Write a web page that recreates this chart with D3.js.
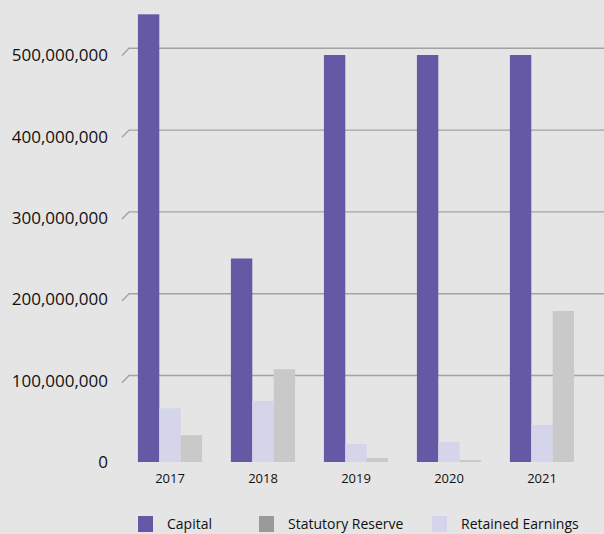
<!DOCTYPE html>
<html>
<head>
<meta charset="utf-8">
<script src="https://cdn.jsdelivr.net/npm/d3@7"></script>
<style>
  html, body { margin: 0; padding: 0; background: #e5e5e5; }
  svg { display: block; }
  text { font-family: "Open Sans", "Noto Sans", sans-serif; fill: #111; }
</style>
</head>
<body>
<svg id="chart" width="604" height="534"></svg>
<script>
// Equity components per year
const years = ["2017", "2018", "2019", "2020", "2021"];
const capital = [550000000, 250000000, 500000000, 500000000, 500000000];
const retainedEarnings = [66000000, 75000000, 22000000, 24500000, 45500000];
const statutoryReserve = [33000000, 114000000, 5000000, 2500000, 185500000];
const yTicks = [0, 100000000, 200000000, 300000000, 400000000, 500000000];

const seriesNames = ["Capital", "Retained Earnings", "Statutory Reserve"];
const seriesValues = [capital, retainedEarnings, statutoryReserve];
const barColors = { "Capital": "#6559a6", "Retained Earnings": "#d4d4ea", "Statutory Reserve": "#c9c9c9" };
const legendOrder = ["Capital", "Statutory Reserve", "Retained Earnings"];
const legendColors = { "Capital": "#6559a6", "Statutory Reserve": "#9a9a9a", "Retained Earnings": "#d4d4ea" };

const svg = d3.select("#chart");
const W = 604;

// front plane (bars) and back wall (gridlines)
const y = d3.scaleLinear().domain([0, 500000000]).range([462, 55]);
const yBack = d3.scaleLinear().domain([0, 500000000]).range([457.3, 48.3]);
const depthX = 7, depthY = 7.2;
const wallLeft = 129;

const x0 = d3.scaleBand().domain(years).range([123.5, 588.5]).paddingInner(0.31).paddingOuter(0.155);
const x1 = d3.scaleBand().domain(seriesNames).range([0, x0.bandwidth()]);

// gridlines on the back wall with a short floor-edge diagonal
const grid = svg.append("g");
yTicks.filter(t => t > 0).forEach(t => {
  const yb = yBack(t);
  grid.append("path")
    .attr("d", `M${wallLeft - depthX},${yb + depthY} L${wallLeft},${yb} L${W},${yb}`)
    .attr("fill", "none")
    .attr("stroke", "#a3a3a3")
    .attr("stroke-width", 1.4);
});

// bars
const groups = svg.append("g").selectAll("g")
  .data(years)
  .join("g")
  .attr("transform", d => `translate(${x0(d)},0)`);

groups.selectAll("rect")
  .data((d, i) => seriesNames.map((s, k) => ({ key: s, value: seriesValues[k][i] })))
  .join("rect")
  .attr("x", d => x1(d.key))
  .attr("width", x1.bandwidth())
  .attr("y", d => y(d.value))
  .attr("height", d => y(0) - y(d.value))
  .attr("fill", d => barColors[d.key]);

// y axis labels
const fmt = d3.format(",");
svg.append("g").selectAll("text")
  .data(yTicks)
  .join("text")
  .attr("x", 108)
  .attr("y", d => y(d))
  .attr("dy", "0.36em")
  .attr("text-anchor", "end")
  .attr("font-size", 17)
  .text(d => fmt(d));

// x axis labels
svg.append("g").selectAll("text")
  .data(years)
  .join("text")
  .attr("x", d => x0(d) + x0.bandwidth() / 2)
  .attr("y", 483)
  .attr("text-anchor", "middle")
  .attr("font-size", 13)
  .text(d => d);

// legend
const legendX = [138, 259, 432];
const legend = svg.append("g").selectAll("g")
  .data(legendOrder)
  .join("g")
  .attr("transform", (d, i) => `translate(${legendX[i]},516)`);
legend.append("rect")
  .attr("width", 15).attr("height", 16)
  .attr("fill", d => legendColors[d]);
legend.append("text")
  .attr("x", 29).attr("y", 12.5)
  .attr("font-size", 14)
  .text(d => d);
</script>
</body>
</html>
